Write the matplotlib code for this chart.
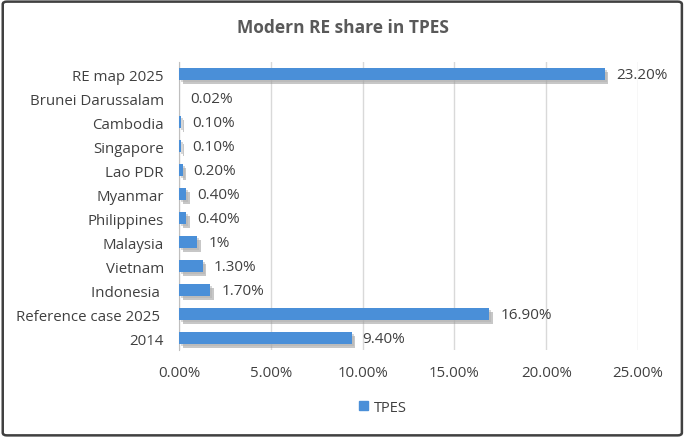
import matplotlib
matplotlib.use('Agg')

import matplotlib.pyplot as plt
import matplotlib.patches as mpatches
import matplotlib.patheffects as pe
from matplotlib.ticker import FuncFormatter

categories = ['2014', 'Reference case 2025 ', 'Indonesia ', 'Vietnam', 'Malaysia',
              'Philippines', 'Myanmar', 'Lao PDR', 'Singapore', 'Cambodia',
              'Brunei Darussalam', 'RE map 2025']
values = [9.4, 16.9, 1.7, 1.3, 1.0, 0.4, 0.4, 0.2, 0.1, 0.1, 0.02, 23.2]
value_labels = ['9.40%', '16.90%', '1.70%', '1.30%', '1%', '0.40%', '0.40%',
                '0.20%', '0.10%', '0.10%', '0.02%', '23.20%']
x_ticks = [0, 5, 10, 15, 20, 25]

plt.rcParams['font.family'] = ['Open Sans', 'DejaVu Sans']
text_col = '#404040'

fig = plt.figure(figsize=(6.86, 4.39), dpi=100)
ax = fig.add_axes([0.261, 0.200, 0.669, 0.656])

y = list(range(len(categories)))
bars = ax.barh(y, values, height=0.5, color='#4A8FD8', zorder=3)
for b in bars:
    b.set_path_effects([pe.SimplePatchShadow(offset=(2.5, -2.5), shadow_rgbFace='#999999', alpha=0.55),
                        pe.SimplePatchShadow(offset=(1.5, -1.5), shadow_rgbFace='#b0b0b0', alpha=0.5),
                        pe.Normal()])

for yi, v, lab in zip(y, values, value_labels):
    ax.text(v + 0.6, yi, lab, va='center', ha='left', fontsize=11, color=text_col, zorder=4)

ax.set_xlim(0, 25)
ax.set_ylim(-0.5, len(categories) - 0.5)
ax.set_xticks(x_ticks)
ax.xaxis.set_major_formatter(FuncFormatter(lambda v, p: '%.2f%%' % v))
ax.set_yticks(y)
ax.set_yticklabels(categories)
ax.tick_params(axis='both', length=0, labelsize=10.8, colors=text_col)
ax.tick_params(axis='x', pad=11)
ax.tick_params(axis='y', pad=11)
ax.grid(axis='x', color='#d9d9d9', linewidth=1, zorder=0)
for s in ['top', 'right', 'bottom']:
    ax.spines[s].set_visible(False)
ax.spines['left'].set_color('#bfbfbf')

fig.text(0.5, 0.936, 'Modern RE share in TPES', ha='center', va='center',
         fontsize=12.5, fontweight='bold', color='#595959')

handle = mpatches.Patch(color='#4A8FD8', label='TPES')
fig.legend(handles=[handle], loc='center', bbox_to_anchor=(0.558, 0.07), frameon=False,
           fontsize=10.5, labelcolor=text_col, handlelength=0.6, handleheight=0.6, handletextpad=0.4)

frame = mpatches.FancyBboxPatch((0.004, 0.006), 0.99, 0.988, boxstyle='round,pad=0,rounding_size=0.006',
                                transform=fig.transFigure, fill=False, edgecolor='#404040', linewidth=1.8)
fig.patches.append(frame)

fig.savefig('out.png', dpi=100)
